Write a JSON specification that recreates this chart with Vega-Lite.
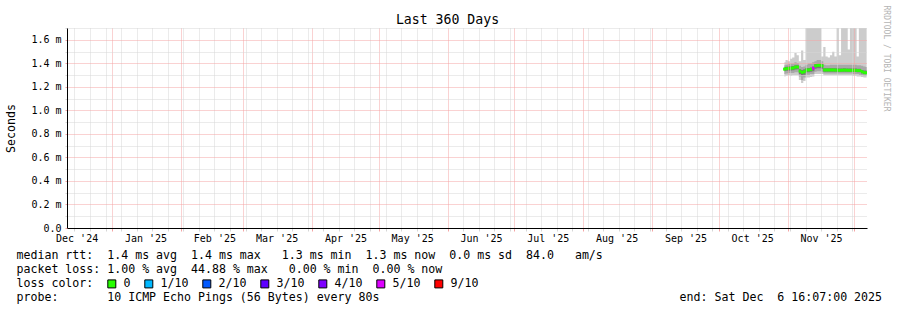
{
 "$schema": "https://vega.github.io/schema/vega-lite/v6.json",
 "width": 800,
 "height": 200,
 "autosize": {"type": "none"},
 "padding": {"left": 67, "top": 28, "right": 30, "bottom": 82},
 "background": "white",
 "title": {"text": "Last 360 Days", "font": "DejaVu Sans Mono", "fontSize": 13.2, "fontWeight": "normal", "color": "black", "anchor": "middle", "frame": "group", "dx": -19.5, "dy": 37, "offset": 5, "baseline": "alphabetic"},
 "data": {"values": [
  {"t": "2025-10-30T12:00:00", "lo0": 1.29, "lo1": 1.31, "lo2": 1.335, "med": 1.352, "hi2": 1.37, "hi1": 1.385, "hi0": 1.41, "loss": "0"},
  {"t": "2025-10-31T12:00:00", "lo0": 1.295, "lo1": 1.315, "lo2": 1.338, "med": 1.356, "hi2": 1.372, "hi1": 1.39, "hi0": 1.43, "loss": "0"},
  {"t": "2025-11-01T12:00:00", "lo0": 1.30, "lo1": 1.32, "lo2": 1.34, "med": 1.358, "hi2": 1.375, "hi1": 1.395, "hi0": 1.42, "loss": "0"},
  {"t": "2025-11-02T12:00:00", "lo0": 1.295, "lo1": 1.318, "lo2": 1.34, "med": 1.36, "hi2": 1.376, "hi1": 1.40, "hi0": 1.44, "loss": "0"},
  {"t": "2025-11-03T12:00:00", "lo0": 1.30, "lo1": 1.32, "lo2": 1.342, "med": 1.362, "hi2": 1.378, "hi1": 1.40, "hi0": 1.45, "loss": "0"},
  {"t": "2025-11-04T12:00:00", "lo0": 1.30, "lo1": 1.325, "lo2": 1.348, "med": 1.37, "hi2": 1.385, "hi1": 1.41, "hi0": 1.49, "loss": "0"},
  {"t": "2025-11-05T12:00:00", "lo0": 1.30, "lo1": 1.325, "lo2": 1.35, "med": 1.37, "hi2": 1.385, "hi1": 1.405, "hi0": 1.47, "loss": "0"},
  {"t": "2025-11-06T12:00:00", "lo0": 1.26, "lo1": 1.29, "lo2": 1.31, "med": 1.335, "hi2": 1.35, "hi1": 1.38, "hi0": 1.42, "loss": "0"},
  {"t": "2025-11-07T12:00:00", "lo0": 1.235, "lo1": 1.26, "lo2": 1.30, "med": 1.325, "hi2": 1.345, "hi1": 1.37, "hi0": 1.51, "loss": "0"},
  {"t": "2025-11-08T12:00:00", "lo0": 1.25, "lo1": 1.28, "lo2": 1.305, "med": 1.33, "hi2": 1.35, "hi1": 1.375, "hi0": 1.43, "loss": "0"},
  {"t": "2025-11-09T12:00:00", "lo0": 1.28, "lo1": 1.305, "lo2": 1.325, "med": 1.345, "hi2": 1.36, "hi1": 1.39, "hi0": 1.8, "loss": "0"},
  {"t": "2025-11-10T12:00:00", "lo0": 1.28, "lo1": 1.305, "lo2": 1.325, "med": 1.345, "hi2": 1.362, "hi1": 1.40, "hi0": 1.8, "loss": "0"},
  {"t": "2025-11-11T12:00:00", "lo0": 1.285, "lo1": 1.31, "lo2": 1.33, "med": 1.35, "hi2": 1.365, "hi1": 1.40, "hi0": 1.8, "loss": "0"},
  {"t": "2025-11-12T12:00:00", "lo0": 1.29, "lo1": 1.31, "lo2": 1.335, "med": 1.36, "hi2": 1.375, "hi1": 1.41, "hi0": 1.8, "loss": "5/10"},
  {"t": "2025-11-13T12:00:00", "lo0": 1.31, "lo1": 1.33, "lo2": 1.355, "med": 1.38, "hi2": 1.395, "hi1": 1.42, "hi0": 1.8, "loss": "0"},
  {"t": "2025-11-14T12:00:00", "lo0": 1.31, "lo1": 1.335, "lo2": 1.36, "med": 1.384, "hi2": 1.40, "hi1": 1.43, "hi0": 1.8, "loss": "0"},
  {"t": "2025-11-15T12:00:00", "lo0": 1.31, "lo1": 1.335, "lo2": 1.36, "med": 1.385, "hi2": 1.40, "hi1": 1.43, "hi0": 1.8, "loss": "0"},
  {"t": "2025-11-16T12:00:00", "lo0": 1.31, "lo1": 1.33, "lo2": 1.355, "med": 1.38, "hi2": 1.395, "hi1": 1.42, "hi0": 1.46, "loss": "0"},
  {"t": "2025-11-17T12:00:00", "lo0": 1.30, "lo1": 1.315, "lo2": 1.33, "med": 1.345, "hi2": 1.36, "hi1": 1.39, "hi0": 1.54, "loss": "0"},
  {"t": "2025-11-18T12:00:00", "lo0": 1.30, "lo1": 1.315, "lo2": 1.33, "med": 1.345, "hi2": 1.36, "hi1": 1.385, "hi0": 1.46, "loss": "0"},
  {"t": "2025-11-19T12:00:00", "lo0": 1.30, "lo1": 1.315, "lo2": 1.33, "med": 1.345, "hi2": 1.36, "hi1": 1.385, "hi0": 1.45, "loss": "0"},
  {"t": "2025-11-20T12:00:00", "lo0": 1.30, "lo1": 1.315, "lo2": 1.33, "med": 1.345, "hi2": 1.36, "hi1": 1.39, "hi0": 1.47, "loss": "0"},
  {"t": "2025-11-21T12:00:00", "lo0": 1.30, "lo1": 1.315, "lo2": 1.33, "med": 1.345, "hi2": 1.36, "hi1": 1.39, "hi0": 1.50, "loss": "0"},
  {"t": "2025-11-22T12:00:00", "lo0": 1.30, "lo1": 1.315, "lo2": 1.33, "med": 1.344, "hi2": 1.36, "hi1": 1.39, "hi0": 1.46, "loss": "0"},
  {"t": "2025-11-23T12:00:00", "lo0": 1.30, "lo1": 1.315, "lo2": 1.33, "med": 1.343, "hi2": 1.358, "hi1": 1.39, "hi0": 1.8, "loss": "0"},
  {"t": "2025-11-24T12:00:00", "lo0": 1.30, "lo1": 1.315, "lo2": 1.33, "med": 1.342, "hi2": 1.358, "hi1": 1.39, "hi0": 1.47, "loss": "0"},
  {"t": "2025-11-25T12:00:00", "lo0": 1.30, "lo1": 1.315, "lo2": 1.33, "med": 1.343, "hi2": 1.358, "hi1": 1.39, "hi0": 1.8, "loss": "0"},
  {"t": "2025-11-26T12:00:00", "lo0": 1.30, "lo1": 1.315, "lo2": 1.33, "med": 1.344, "hi2": 1.36, "hi1": 1.39, "hi0": 1.8, "loss": "0"},
  {"t": "2025-11-27T12:00:00", "lo0": 1.30, "lo1": 1.315, "lo2": 1.33, "med": 1.343, "hi2": 1.358, "hi1": 1.39, "hi0": 1.8, "loss": "0"},
  {"t": "2025-11-28T12:00:00", "lo0": 1.30, "lo1": 1.315, "lo2": 1.33, "med": 1.342, "hi2": 1.358, "hi1": 1.39, "hi0": 1.52, "loss": "0"},
  {"t": "2025-11-29T12:00:00", "lo0": 1.30, "lo1": 1.315, "lo2": 1.33, "med": 1.342, "hi2": 1.357, "hi1": 1.39, "hi0": 1.8, "loss": "0"},
  {"t": "2025-11-30T12:00:00", "lo0": 1.295, "lo1": 1.31, "lo2": 1.328, "med": 1.342, "hi2": 1.357, "hi1": 1.39, "hi0": 1.8, "loss": "0"},
  {"t": "2025-12-01T12:00:00", "lo0": 1.295, "lo1": 1.31, "lo2": 1.328, "med": 1.342, "hi2": 1.357, "hi1": 1.39, "hi0": 1.8, "loss": "0"},
  {"t": "2025-12-02T12:00:00", "lo0": 1.29, "lo1": 1.31, "lo2": 1.326, "med": 1.34, "hi2": 1.355, "hi1": 1.385, "hi0": 1.46, "loss": "0"},
  {"t": "2025-12-03T12:00:00", "lo0": 1.29, "lo1": 1.305, "lo2": 1.325, "med": 1.34, "hi2": 1.355, "hi1": 1.385, "hi0": 1.8, "loss": "0"},
  {"t": "2025-12-04T12:00:00", "lo0": 1.285, "lo1": 1.30, "lo2": 1.315, "med": 1.33, "hi2": 1.345, "hi1": 1.38, "hi0": 1.8, "loss": "0"},
  {"t": "2025-12-05T12:00:00", "lo0": 1.28, "lo1": 1.295, "lo2": 1.31, "med": 1.322, "hi2": 1.34, "hi1": 1.375, "hi0": 1.8, "loss": "0"},
  {"t": "2025-12-06T12:00:00", "lo0": 1.28, "lo1": 1.295, "lo2": 1.31, "med": 1.322, "hi2": 1.34, "hi1": 1.37, "hi0": 1.8, "loss": "0"}
 ]},
 "encoding": {
  "x": {
   "field": "t", "type": "temporal",
   "scale": {"domain": [{"year": 2024, "month": 12, "date": 11, "hours": 16, "minutes": 7}, {"year": 2025, "month": 12, "date": 6, "hours": 16, "minutes": 7}]},
   "axis": {
    "orient": "bottom",
    "zindex": 1,
    "values": [
     {"year": 2024, "month": 12, "date": 15}, {"year": 2024, "month": 12, "date": 16}, {"year": 2024, "month": 12, "date": 22}, {"year": 2024, "month": 12, "date": 29},
     {"year": 2025, "month": 1, "date": 1}, {"year": 2025, "month": 1, "date": 5}, {"year": 2025, "month": 1, "date": 12}, {"year": 2025, "month": 1, "date": 16}, {"year": 2025, "month": 1, "date": 19}, {"year": 2025, "month": 1, "date": 26},
     {"year": 2025, "month": 2, "date": 1}, {"year": 2025, "month": 2, "date": 2}, {"year": 2025, "month": 2, "date": 9}, {"year": 2025, "month": 2, "date": 16}, {"year": 2025, "month": 2, "date": 23},
     {"year": 2025, "month": 3, "date": 1}, {"year": 2025, "month": 3, "date": 2}, {"year": 2025, "month": 3, "date": 9}, {"year": 2025, "month": 3, "date": 16}, {"year": 2025, "month": 3, "date": 23}, {"year": 2025, "month": 3, "date": 30},
     {"year": 2025, "month": 4, "date": 1}, {"year": 2025, "month": 4, "date": 6}, {"year": 2025, "month": 4, "date": 13}, {"year": 2025, "month": 4, "date": 16}, {"year": 2025, "month": 4, "date": 20}, {"year": 2025, "month": 4, "date": 27},
     {"year": 2025, "month": 5, "date": 1}, {"year": 2025, "month": 5, "date": 4}, {"year": 2025, "month": 5, "date": 11}, {"year": 2025, "month": 5, "date": 16}, {"year": 2025, "month": 5, "date": 18}, {"year": 2025, "month": 5, "date": 25},
     {"year": 2025, "month": 6, "date": 1}, {"year": 2025, "month": 6, "date": 8}, {"year": 2025, "month": 6, "date": 15}, {"year": 2025, "month": 6, "date": 16}, {"year": 2025, "month": 6, "date": 22}, {"year": 2025, "month": 6, "date": 29},
     {"year": 2025, "month": 7, "date": 1}, {"year": 2025, "month": 7, "date": 6}, {"year": 2025, "month": 7, "date": 13}, {"year": 2025, "month": 7, "date": 16}, {"year": 2025, "month": 7, "date": 20}, {"year": 2025, "month": 7, "date": 27},
     {"year": 2025, "month": 8, "date": 1}, {"year": 2025, "month": 8, "date": 3}, {"year": 2025, "month": 8, "date": 10}, {"year": 2025, "month": 8, "date": 16}, {"year": 2025, "month": 8, "date": 17}, {"year": 2025, "month": 8, "date": 24}, {"year": 2025, "month": 8, "date": 31},
     {"year": 2025, "month": 9, "date": 1}, {"year": 2025, "month": 9, "date": 7}, {"year": 2025, "month": 9, "date": 14}, {"year": 2025, "month": 9, "date": 16}, {"year": 2025, "month": 9, "date": 21}, {"year": 2025, "month": 9, "date": 28},
     {"year": 2025, "month": 10, "date": 1}, {"year": 2025, "month": 10, "date": 5}, {"year": 2025, "month": 10, "date": 12}, {"year": 2025, "month": 10, "date": 16}, {"year": 2025, "month": 10, "date": 19}, {"year": 2025, "month": 10, "date": 26},
     {"year": 2025, "month": 11, "date": 1}, {"year": 2025, "month": 11, "date": 2}, {"year": 2025, "month": 11, "date": 9}, {"year": 2025, "month": 11, "date": 16}, {"year": 2025, "month": 11, "date": 23}, {"year": 2025, "month": 11, "date": 30},
     {"year": 2025, "month": 12, "date": 1}
    ],
    "labelExpr": "date(datum.value)==16 ? timeFormat(datum.value, \"%b '%y\") : ''",
    "labelOverlap": false, "labelFlush": false, "labelBound": false,
    "labelFontSize": 10, "labelPadding": 2, "labelAlign": "center", "labelBaseline": "top",
    "tickSize": 3,
    "tickColor": {"condition": {"test": "date(datum.value)==1", "value": "#f4a4a4"}, "value": "#d6d6d6"},
    "tickOpacity": {"condition": {"test": "date(datum.value)!=1 && day(datum.value)!=0", "value": 0}, "value": 1},
    "grid": true, "gridDash": [1, 1],
    "gridColor": {"condition": {"test": "date(datum.value)==1", "value": "#f4a4a4"}, "value": "#d6d6d6"},
    "gridOpacity": {"condition": {"test": "date(datum.value)!=1 && day(datum.value)!=0", "value": 0}, "value": 1},
    "domainColor": "black", "domainWidth": 1,
    "title": [
     "median\u00a0rtt:\u00a0\u00a01.4\u00a0ms\u00a0avg\u00a0\u00a01.4\u00a0ms\u00a0max\u00a0\u00a0\u00a01.3\u00a0ms\u00a0min\u00a0\u00a01.3\u00a0ms\u00a0now\u00a0\u00a00.0\u00a0ms\u00a0sd\u00a0\u00a084.0\u00a0\u00a0\u00a0am/s",
     "packet\u00a0loss:\u00a01.00\u00a0%\u00a0avg\u00a0\u00a044.88\u00a0%\u00a0max\u00a0\u00a0\u00a00.00\u00a0%\u00a0min\u00a0\u00a00.00\u00a0%\u00a0now",
     "loss\u00a0color:",
     "probe:\u00a0\u00a0\u00a0\u00a0\u00a0\u00a0\u00a010\u00a0ICMP\u00a0Echo\u00a0Pings\u00a0(56\u00a0Bytes)\u00a0every\u00a080s\u00a0\u00a0\u00a0\u00a0\u00a0\u00a0\u00a0\u00a0\u00a0\u00a0\u00a0\u00a0\u00a0\u00a0\u00a0\u00a0\u00a0\u00a0\u00a0\u00a0\u00a0\u00a0\u00a0\u00a0\u00a0\u00a0\u00a0\u00a0\u00a0\u00a0\u00a0\u00a0\u00a0\u00a0\u00a0\u00a0\u00a0\u00a0\u00a0\u00a0\u00a0\u00a0\u00a0end:\u00a0Sat\u00a0Dec\u00a0\u00a06\u00a016:07:00\u00a02025"
    ],
    "titleAnchor": "start", "titleAlign": "left", "titleBaseline": "alphabetic",
    "titleX": -51, "titleY": 30.3, "titleFontSize": 11.6, "titleLineHeight": 14
   }
  }
 },
 "layer": [
  {
   "mark": {"type": "area", "interpolate": "step", "color": "#cccccc", "opacity": 1, "clip": true},
   "encoding": {
    "y": {
     "field": "lo0", "type": "quantitative",
     "scale": {"domain": [0, 1.702], "nice": false, "zero": false},
     "axis": {
      "orient": "left", "zindex": 1,
      "values": [0, 0.1, 0.2, 0.3, 0.4, 0.5, 0.6, 0.7, 0.8, 0.9, 1.0, 1.1, 1.2, 1.3, 1.4, 1.5, 1.6, 1.7],
      "labelExpr": "round(datum.value*10)%2!=0 ? '' : (datum.value==0 ? '0.0\u00a0\u00a0' : format(datum.value, '.1f') + ' m')",
      "labelOverlap": false, "labelFlush": false, "labelBound": false,
      "labelFontSize": 10, "labelPadding": 4, "labelAlign": "right", "labelBaseline": "middle",
      "tickSize": 2,
      "tickColor": {"condition": {"test": "round(datum.value*10)%2==0", "value": "#f4a4a4"}, "value": "#d6d6d6"},
      "grid": true, "gridDash": [1, 1],
      "gridColor": {"condition": {"test": "round(datum.value*10)%2==0", "value": "#f4a4a4"}, "value": "#d6d6d6"},
      "domainColor": "black", "domainWidth": 1,
      "title": "Seconds", "titleFontSize": 11.6, "titleAngle": 270, "titleAlign": "center", "titleBaseline": "middle",
      "titleX": -56, "titleY": 100
     }
    },
    "y2": {"field": "hi0"}
   }
  },
  {
   "mark": {"type": "area", "interpolate": "step", "color": "#a8a8a8", "opacity": 1, "clip": true},
   "encoding": {
    "y": {"field": "lo1", "type": "quantitative", "axis": null},
    "y2": {"field": "hi1"}
   }
  },
  {
   "mark": {"type": "area", "interpolate": "step", "color": "#777777", "opacity": 1, "clip": true},
   "encoding": {
    "y": {"field": "lo2", "type": "quantitative", "axis": null},
    "y2": {"field": "hi2"}
   }
  },
  {
   "mark": {"type": "tick", "orient": "horizontal", "thickness": 3, "size": 2.6, "opacity": 1, "clip": true},
   "encoding": {
    "y": {
     "field": "med", "type": "quantitative",
     "axis": {
      "orient": "right", "labels": false, "ticks": false, "domain": false, "grid": false,
      "title": "RRDTOOL / TOBI OETIKER", "titleAngle": 90, "titleAlign": "left", "titleBaseline": "middle",
      "titleX": 18.5, "titleY": -23, "titleFontSize": 8, "titleColor": "#b4b4b4"
     }
    },
    "color": {
     "field": "loss", "type": "nominal",
     "scale": {"domain": ["0", "1/10", "2/10", "3/10", "4/10", "5/10", "9/10"], "range": ["#26ff00", "#00b8ff", "#0059ff", "#5e00ff", "#7e00ff", "#dd00ff", "#ff0000"]},
     "legend": {
      "orient": "none", "legendX": 39, "legendY": 250, "direction": "horizontal",
      "title": null,
      "labelFont": "DejaVu Sans Mono", "labelFontSize": 11.6, "labelColor": "black", "labelOffset": 6,
      "columnPadding": 11, "symbolType": "square", "symbolSize": 64, "symbolStrokeColor": "black", "symbolStrokeWidth": 1, "symbolOpacity": 1,
      "padding": 0
     }
    }
   }
  }
 ],
 "resolve": {"axis": {"y": "independent"}},
 "config": {
  "view": {"stroke": null},
  "font": "DejaVu Sans Mono",
  "axis": {"labelFont": "DejaVu Sans Mono", "titleFont": "DejaVu Sans Mono", "labelColor": "black", "titleColor": "black", "titleFontWeight": "normal"},
  "legend": {"labelFont": "DejaVu Sans Mono", "titleFont": "DejaVu Sans Mono"}
 }
}
